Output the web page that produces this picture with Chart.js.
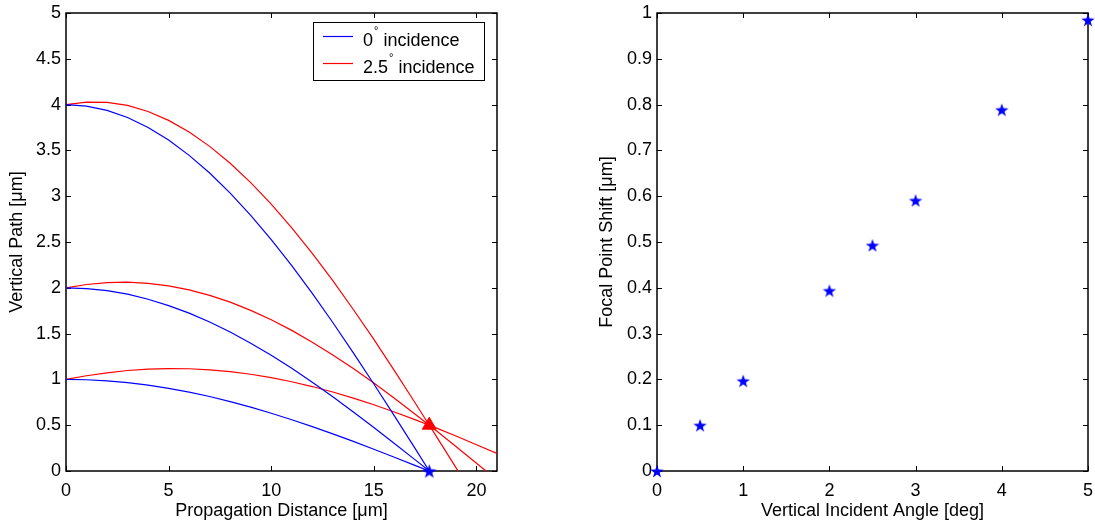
<!DOCTYPE html>
<html>
<head>
<meta charset="utf-8">
<script src="https://cdn.jsdelivr.net/npm/chart.js@4.4.0/dist/chart.umd.min.js"></script>
<style>
  body { margin: 0; background: #fff; }
  .box { position: absolute; top: 0; height: 527px; }
</style>
</head>
<body>
<div class="box" style="left:0;width:520px"><canvas id="leftChart"></canvas></div>
<div class="box" style="left:560px;width:535px"><canvas id="rightChart"></canvas></div>
<script>
// propagation distance samples (um)
const xs = [0, 1, 2, 3, 4, 5, 6, 7, 8, 9, 10, 11, 12, 13, 14, 15, 16, 17, 17.7, 18, 19, 20, 21];

// 0 deg incidence rays (stop at the focus)
const blue4 = [4, 3.984, 3.937, 3.859, 3.751, 3.613, 3.446, 3.253, 3.034, 2.791, 2.526, 2.241, 1.939, 1.621, 1.290, 0.950, 0.601, 0.249, 0];
const blue2 = [2, 1.992, 1.969, 1.930, 1.875, 1.806, 1.723, 1.626, 1.517, 1.395, 1.263, 1.121, 0.969, 0.810, 0.645, 0.475, 0.300, 0.124, 0];
const blue1 = [1, 0.996, 0.984, 0.965, 0.938, 0.903, 0.862, 0.813, 0.758, 0.698, 0.631, 0.560, 0.485, 0.405, 0.323, 0.237, 0.150, 0.062, 0];

// 2.5 deg incidence rays
const red4 = [4, 4.028, 4.025, 3.991, 3.925, 3.828, 3.700, 3.544, 3.360, 3.149, 2.914, 2.655, 2.376, 2.078, 1.763, 1.436, 1.095, 0.748, 0.5, 0.394, 0.037, -0.320, -0.670];
const red2 = [2, 2.036, 2.057, 2.061, 2.049, 2.021, 1.977, 1.917, 1.843, 1.753, 1.651, 1.535, 1.406, 1.267, 1.118, 0.961, 0.794, 0.623, 0.5, 0.447, 0.267, 0.085, -0.098];
const red1 = [1, 1.040, 1.072, 1.097, 1.112, 1.118, 1.116, 1.104, 1.084, 1.056, 1.019, 0.974, 0.922, 0.862, 0.796, 0.723, 0.644, 0.561, 0.5, 0.473, 0.382, 0.287, 0.191];

const focus0 = [17.7, 0];
const focus25 = [17.7, 0.5];

// right plot
const angles = [0, 0.5, 1, 2, 2.5, 3, 4, 5];
const shifts = [0, 0.1, 0.197, 0.394, 0.493, 0.591, 0.789, 0.985];

const BLUE = 'rgb(0,0,255)';
const RED = 'rgb(255,0,0)';
const FONT = '"Liberation Sans", Arial, Helvetica, sans-serif';

function pts(vals) {
  return vals.map(function (v, i) { return { x: xs[i], y: v }; });
}

// filled five point star for markers
function makeStar(size, color) {
  const c = document.createElement('canvas');
  c.width = size; c.height = size;
  const g = c.getContext('2d');
  const R = size / 2, r = R * 0.4;
  g.beginPath();
  for (let i = 0; i < 10; i++) {
    const rad = i % 2 === 0 ? R : r;
    const a = -Math.PI / 2 + i * Math.PI / 5;
    const px = R + rad * Math.cos(a), py = R + 0.8 + rad * Math.sin(a);
    if (i === 0) g.moveTo(px, py); else g.lineTo(px, py);
  }
  g.closePath();
  g.fillStyle = color;
  g.fill();
  return c;
}

// box around the plot + inward ticks on all sides (matlab look)
const frame = {
  id: 'frame',
  beforeDatasetsDraw(chart) {
    const ctx = chart.ctx, a = chart.chartArea;
    const xs_ = chart.scales.x, ys_ = chart.scales.y;
    ctx.save();
    ctx.strokeStyle = '#000';
    ctx.lineWidth = 1;
    ctx.beginPath();
    xs_.ticks.forEach(function (t) {
      const p = Math.round(xs_.getPixelForValue(t.value)) + 0.5;
      ctx.moveTo(p, a.bottom); ctx.lineTo(p, a.bottom - 5);
      ctx.moveTo(p, a.top); ctx.lineTo(p, a.top + 5);
    });
    ys_.ticks.forEach(function (t) {
      const p = Math.round(ys_.getPixelForValue(t.value)) + 0.5;
      ctx.moveTo(a.left, p); ctx.lineTo(a.left + 5, p);
      ctx.moveTo(a.right, p); ctx.lineTo(a.right - 5, p);
    });
    ctx.stroke();
    ctx.lineWidth = 1.5;
    ctx.strokeRect(Math.round(a.left), Math.round(a.top), Math.round(a.right - a.left), Math.round(a.bottom - a.top));
    ctx.restore();
  }
};

// legend box like the matlab one
const legendBox = {
  id: 'legendBox',
  afterDraw(chart) {
    const ctx = chart.ctx;
    const items = [
      { color: BLUE, main: '0', rest: ' incidence', y: 41 },
      { color: RED, main: '2.5', rest: ' incidence', y: 68 }
    ];
    ctx.save();
    ctx.fillStyle = '#fff';
    ctx.fillRect(313, 22, 171, 58);
    ctx.strokeStyle = '#000';
    ctx.lineWidth = 1;
    ctx.strokeRect(313.5, 22.5, 171, 58);
    items.forEach(function (it) {
      ctx.strokeStyle = it.color;
      ctx.lineWidth = 1.2;
      ctx.beginPath();
      ctx.moveTo(323, it.y - 4.5); ctx.lineTo(353, it.y - 4.5);
      ctx.stroke();
      ctx.fillStyle = '#000';
      ctx.textBaseline = 'middle';
      ctx.font = '18px ' + FONT;
      ctx.fillText(it.main, 363, it.y);
      let w = ctx.measureText(it.main).width;
      ctx.font = '11px ' + FONT;
      ctx.fillText('\u00b0', 363 + w + 1, it.y - 10);
      w += ctx.measureText('\u00b0').width + 1;
      ctx.font = '18px ' + FONT;
      ctx.fillText(it.rest, 363 + w, it.y);
    });
    ctx.restore();
  }
};

function fmt(v) { return String(+Number(v).toFixed(2)); }

function axisX(min, max, step, title) {
  return {
    type: 'linear', min: min, max: max,
    grid: { display: false, drawTicks: false },
    border: { display: false },
    ticks: { stepSize: step, includeBounds: false, color: '#000', padding: 9, maxRotation: 0,
      callback: fmt, font: { family: FONT, size: 18 } },
    title: { display: true, text: title, color: '#000', padding: { top: 0, bottom: 5 },
      font: { family: FONT, size: 18 } },
    afterFit(s) { s.height = 56; s.paddingLeft = 0; s.paddingRight = 0; }
  };
}

function axisY(min, max, step, title, width, tpad) {
  return {
    type: 'linear', min: min, max: max,
    grid: { display: false, drawTicks: false },
    border: { display: false },
    ticks: { stepSize: step, color: '#000', padding: 5,
      callback: fmt, font: { family: FONT, size: 18 } },
    title: { display: true, text: title, color: '#000', padding: { top: tpad, bottom: 0 },
      font: { family: FONT, size: 18 } },
    afterFit(s) { s.width = width; s.paddingTop = 0; s.paddingBottom = 0; }
  };
}

function line(vals, color) {
  return { data: pts(vals), showLine: true, borderColor: color, borderWidth: 1.2,
    pointRadius: 0, fill: false, order: 2 };
}

new Chart(document.getElementById('leftChart'), {
  type: 'scatter',
  data: {
    datasets: [
      { data: [{ x: focus0[0], y: focus0[1] }], pointStyle: makeStar(15, BLUE), clip: false, order: 0 },
      { data: [{ x: focus25[0], y: focus25[1] }], pointStyle: 'triangle', pointRadius: 8,
        backgroundColor: RED, borderColor: RED, clip: false, order: 1 },
      line(blue4, BLUE), line(red4, RED),
      line(blue2, BLUE), line(red2, RED),
      line(blue1, BLUE), line(red1, RED)
    ]
  },
  options: {
    responsive: true, maintainAspectRatio: false, animation: false,
    layout: { padding: { top: 13, right: 23, left: 0, bottom: 0 } },
    plugins: { legend: { display: false }, tooltip: { enabled: false } },
    scales: {
      x: axisX(0, 21, 5, 'Propagation Distance [\u03bcm]'),
      y: axisY(0, 5, 0.5, 'Vertical Path [\u03bcm]', 66, 6)
    }
  },
  plugins: [frame, legendBox]
});

new Chart(document.getElementById('rightChart'), {
  type: 'scatter',
  data: {
    datasets: [{
      data: angles.map(function (a, i) { return { x: a, y: shifts[i] }; }),
      pointStyle: makeStar(14, BLUE), clip: false
    }]
  },
  options: {
    responsive: true, maintainAspectRatio: false, animation: false,
    layout: { padding: { top: 13, right: 7, left: 0, bottom: 0 } },
    plugins: { legend: { display: false }, tooltip: { enabled: false } },
    scales: {
      x: axisX(0, 5, 1, 'Vertical Incident Angle [deg]'),
      y: axisY(0, 1, 0.1, 'Focal Point Shift [\u03bcm]', 97, 36)
    }
  },
  plugins: [frame]
});
</script>
</body>
</html>
